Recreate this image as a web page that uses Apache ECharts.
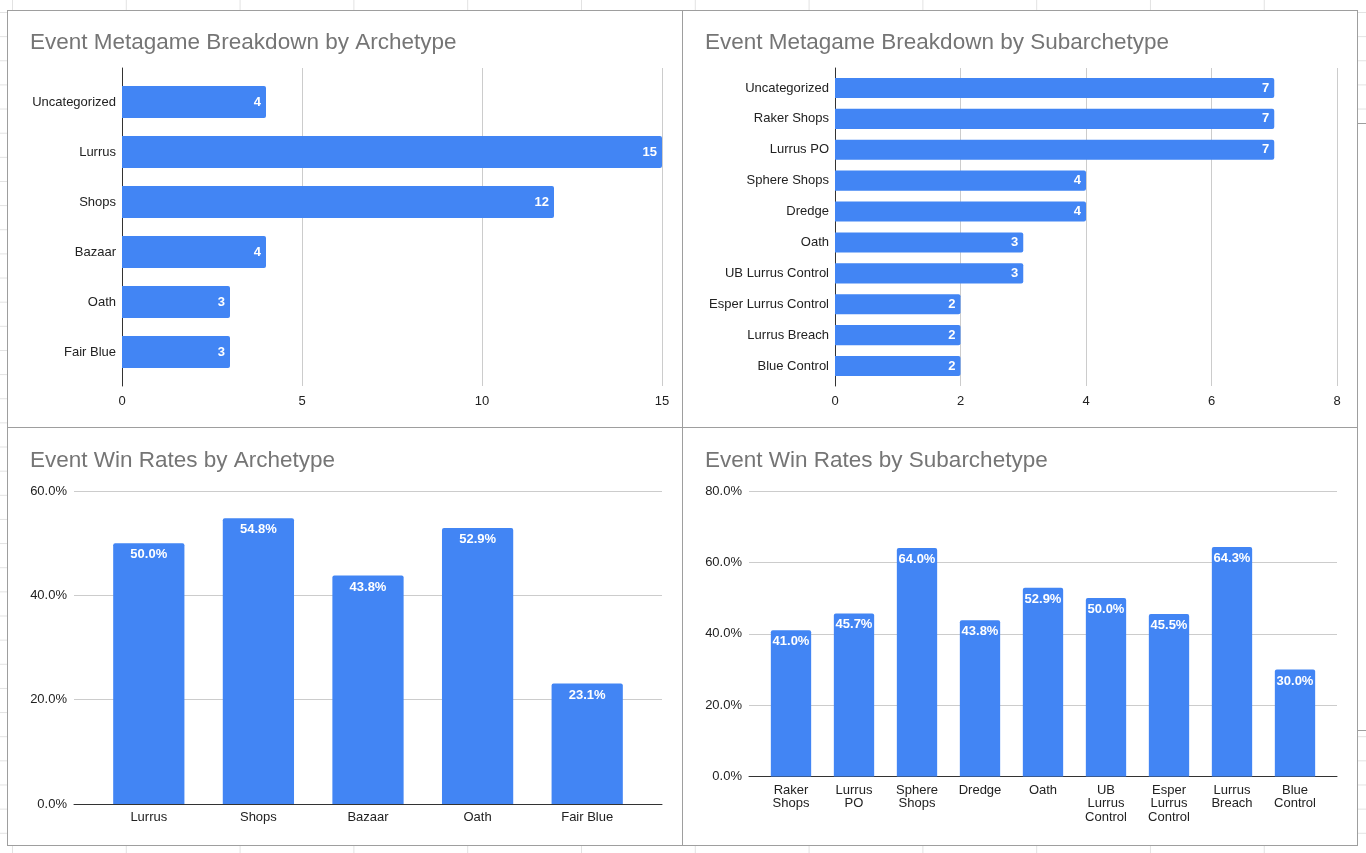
<!DOCTYPE html>
<html lang="en">
<head>
<meta charset="utf-8">
<script src="https://cdn.jsdelivr.net/npm/echarts@6/dist/echarts.min.js"></script>
<style>
    html, body {
        margin: 0;
        padding: 0;
        width: 1366px;
        height: 853px;
        overflow: hidden;
        background-color: #fff;
        background-image:
            linear-gradient(to right, #e2e2e2 1px, transparent 1px),
            linear-gradient(to bottom, #e2e2e2 1px, transparent 1px);
        background-size: 113.8px 24.15px;
        background-position: 12px 12px;
    }
    .panel {
        position: absolute;
        background: #fff;
        border: 1px solid #9e9e9e;
        box-sizing: border-box;
    }
    #chartMain {
        position: absolute;
        left: 0;
        top: 0;
        width: 1366px;
        height: 853px;
    }
</style>
</head>
<body>

<div class="panel" style="left:1357px;top:123px;width:20px;height:608px;"></div>
<div class="panel" style="left:7px;top:10px;width:676px;height:418px;"></div>
<div class="panel" style="left:682px;top:10px;width:676px;height:418px;"></div>
<div class="panel" style="left:7px;top:427px;width:676px;height:419px;"></div>
<div class="panel" style="left:682px;top:427px;width:676px;height:419px;"></div>

<div id="chartMain"></div>

<script>
    // metagame counts
    var archetypes = ['Uncategorized', 'Lurrus', 'Shops', 'Bazaar', 'Oath', 'Fair Blue'];
    var archetypeCounts = [4, 15, 12, 4, 3, 3];

    var subarchetypes = ['Uncategorized', 'Raker Shops', 'Lurrus PO', 'Sphere Shops', 'Dredge', 'Oath',
        'UB Lurrus Control', 'Esper Lurrus Control', 'Lurrus Breach', 'Blue Control'];
    var subarchetypeCounts = [7, 7, 7, 4, 4, 3, 3, 2, 2, 2];

    // win rates (%)
    var winArchetypes = ['Lurrus', 'Shops', 'Bazaar', 'Oath', 'Fair Blue'];
    var winArchetypeRates = [50.0, 54.8, 43.8, 52.9, 23.1];

    var winSubarchetypes = ['Raker Shops', 'Lurrus PO', 'Sphere Shops', 'Dredge', 'Oath',
        'UB Lurrus Control', 'Esper Lurrus Control', 'Lurrus Breach', 'Blue Control'];
    var winSubarchetypeRates = [41.0, 45.7, 64.0, 43.8, 52.9, 50.0, 45.5, 64.3, 30.0];

    var blue = '#4285f4';
    var textCol = '#222';
    var gridCol = '#cccccc';
    var fontFam = '"Liberation Sans", Arial, sans-serif';

    var myChart = echarts.init(document.getElementById('chartMain'));

    function titleAt(text, left, top) {
        return {
            text: text, left: left, top: top, padding: 0,
            textStyle: {color: '#757575', fontSize: 22.5, fontWeight: 'normal', fontFamily: fontFam}
        };
    }

    function pct(v) {
        return v.toFixed(1) + '%';
    }

    // horizontal chart: outer grid carries the value axis + axis line, inner grid the bars
    function hAxes(gi, max, interval, cats) {
        return {
            x: [
                {type: 'value', gridIndex: gi, min: 0, max: max, interval: interval,
                    axisLine: {show: false}, axisTick: {show: false},
                    axisLabel: {color: textCol, fontSize: 13, margin: 9, lineHeight: 13.5},
                    splitLine: {lineStyle: {color: gridCol}}},
                {type: 'value', gridIndex: gi + 1, min: 0, max: max, show: false}
            ],
            y: [
                {type: 'value', gridIndex: gi, axisLine: {show: true, lineStyle: {color: '#333'}},
                    axisLabel: {show: false}, axisTick: {show: false}, splitLine: {show: false}},
                {type: 'category', gridIndex: gi + 1, inverse: true, data: cats,
                    axisLine: {show: false}, axisTick: {show: false},
                    axisLabel: {color: textCol, fontSize: 13, margin: 6}}
            ]
        };
    }

    // vertical chart
    function vAxes(gi, max, cats, wrap) {
        return {
            x: [
                {type: 'value', gridIndex: gi, min: 0, max: 1,
                    axisLine: {show: true, lineStyle: {color: '#333'}},
                    axisLabel: {show: false}, axisTick: {show: false}, splitLine: {show: false}},
                {type: 'category', gridIndex: gi + 1, data: cats,
                    axisLine: {show: false}, axisTick: {show: false},
                    axisLabel: {color: textCol, fontSize: 13, margin: 7, lineHeight: 13.5, interval: 0,
                        formatter: function (v) { return wrap ? v.split(' ').join('\n') : v; }}}
            ],
            y: [
                {type: 'value', gridIndex: gi, min: 0, max: max, interval: 20,
                    axisLine: {show: false}, axisTick: {show: false},
                    axisLabel: {color: textCol, fontSize: 13, margin: 7, formatter: pct},
                    splitLine: {lineStyle: {color: gridCol}}},
                {type: 'value', gridIndex: gi + 1, min: 0, max: max, show: false}
            ]
        };
    }

    var a1 = hAxes(0, 15, 5, archetypes);
    var a2 = hAxes(2, 8, 2, subarchetypes);
    var a3 = vAxes(4, 60, winArchetypes, false);
    var a4 = vAxes(6, 80, winSubarchetypes, true);

    var labelCommon = {show: true, color: '#fff', fontSize: 13, fontWeight: 'bold', fontFamily: fontFam};

    myChart.setOption({
        animation: false,
        backgroundColor: 'transparent',
        textStyle: {fontFamily: fontFam},
        title: [
            titleAt('Event Metagame Breakdown by Archetype', 30, 31),
            titleAt('Event Metagame Breakdown by Subarchetype', 705, 31),
            titleAt('Event Win Rates by Archetype', 30, 449),
            titleAt('Event Win Rates by Subarchetype', 705, 449)
        ],
        grid: [
            {left: 122, top: 68, width: 540, height: 318},
            {left: 122, top: 77, width: 540, height: 300},
            {left: 835, top: 68, width: 502, height: 318},
            {left: 835, top: 72.5, width: 502, height: 309},
            {left: 74, top: 491, width: 588, height: 313},
            {left: 94, top: 491, width: 548, height: 313},
            {left: 749, top: 491, width: 588, height: 285.5},
            {left: 759.5, top: 491, width: 567, height: 285.5}
        ],
        xAxis: [].concat(a1.x, a2.x, a3.x, a4.x),
        yAxis: [].concat(a1.y, a2.y, a3.y, a4.y),
        series: [
            {
                type: 'bar', xAxisIndex: 1, yAxisIndex: 1, data: archetypeCounts,
                barCategoryGap: '36%', itemStyle: {color: blue, borderRadius: [0, 2, 2, 0]},
                label: Object.assign({position: 'insideRight'}, labelCommon)
            },
            {
                type: 'bar', xAxisIndex: 3, yAxisIndex: 3, data: subarchetypeCounts,
                barCategoryGap: '35%', itemStyle: {color: blue, borderRadius: [0, 2, 2, 0]},
                label: Object.assign({position: 'insideRight'}, labelCommon)
            },
            {
                type: 'bar', xAxisIndex: 5, yAxisIndex: 5, data: winArchetypeRates,
                barCategoryGap: '35%', itemStyle: {color: blue, borderRadius: [2, 2, 0, 0]},
                label: Object.assign({position: 'insideTop', formatter: function (p) { return pct(p.value); }}, labelCommon)
            },
            {
                type: 'bar', xAxisIndex: 7, yAxisIndex: 7, data: winSubarchetypeRates,
                barCategoryGap: '36%', itemStyle: {color: blue, borderRadius: [2, 2, 0, 0]},
                label: Object.assign({position: 'insideTop', formatter: function (p) { return pct(p.value); }}, labelCommon)
            }
        ]
    });
</script>
</body>
</html>
